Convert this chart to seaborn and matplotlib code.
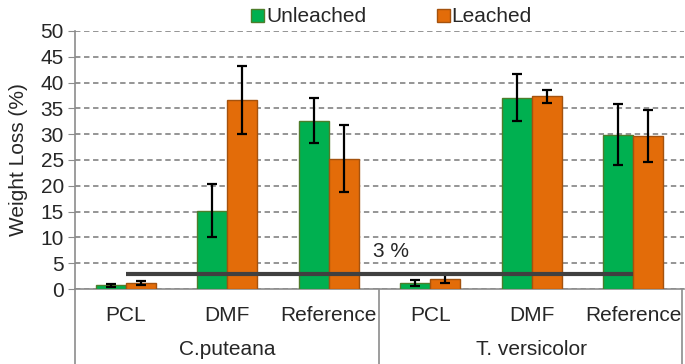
import pandas as pd
import seaborn as sns
import matplotlib.pyplot as plt
import matplotlib.transforms as mtransforms

groups = ["C.puteana", "T. versicolor"]
treatments = ["PCL", "DMF", "Reference"]
unleached = [0.7, 15.2, 32.6, 1.2, 37.1, 29.9]
unleached_err = [0.3, 5.1, 4.4, 0.6, 4.6, 5.9]
leached = [1.2, 36.6, 25.2, 2.0, 37.3, 29.7]
leached_err = [0.4, 6.6, 6.5, 0.9, 1.3, 5.0]
threshold = 3

cats = [g + "|" + t for g in groups for t in treatments]
df = pd.DataFrame({
    "cat": cats * 2,
    "cond": ["Unleached"] * 6 + ["Leached"] * 6,
    "val": unleached + leached,
    "err": unleached_err + leached_err,
})

sns.set_style("white")
plt.rcParams["font.family"] = ["Liberation Sans", "DejaVu Sans"]
fs = 15

fig = plt.figure(figsize=(6.85, 3.64), dpi=100)
ax = fig.add_axes([0.1095, 0.206, 0.889, 0.709])

pal = {"Unleached": "#00B050", "Leached": "#E36C09"}
sns.barplot(data=df, x="cat", y="val", hue="cond", order=cats,
            hue_order=["Unleached", "Leached"], palette=pal, width=0.59,
            gap=0, errorbar=None, saturation=1, ax=ax, zorder=3)

edges = ["#4E7D2B", "#A4520E"]
for cont, errs, ec in zip(ax.containers, [unleached_err, leached_err], edges):
    xs = []
    ys = []
    for p in cont.patches:
        p.set_edgecolor(ec)
        p.set_linewidth(1.0)
        xs.append(p.get_x() + p.get_width() / 2)
        ys.append(p.get_height())
    ax.errorbar(xs, ys, yerr=errs, fmt="none", ecolor="black", elinewidth=1.6,
                capsize=3.5, capthick=1.6, zorder=4)

# 3 % threshold line
ax.plot([0, len(cats) - 1], [threshold, threshold], color="#404040", lw=3,
        zorder=5, solid_capstyle="butt")
ax.text(2.44, 7.2, "3 %", fontsize=fs, color="#262626", va="center", ha="left")

ax.set_ylim(0, 50)
ax.set_xlim(-0.5, len(cats) - 0.5)
ax.set_yticks(range(0, 51, 5))
ax.yaxis.grid(True, linestyle=(0, (3, 2)), color="#8C8C8C", lw=1.3, zorder=0)
ax.set_axisbelow(True)
ax.tick_params(axis="y", left=True, length=5, color="#8C8C8C", labelsize=fs,
               pad=3)
ax.tick_params(axis="x", bottom=False, labelsize=fs, pad=9)
ax.set_xticks(range(len(cats)))
ax.set_xticklabels(treatments * 2)
ax.set_xlabel("")
ax.set_ylabel("Weight Loss (%)", fontsize=fs, labelpad=9)

for s in ["top", "right"]:
    ax.spines[s].set_visible(False)
for s in ["left", "bottom"]:
    ax.spines[s].set_color("#8C8C8C")
    ax.spines[s].set_linewidth(1.2)

# group separators and labels below the axis
trans = mtransforms.blended_transform_factory(ax.transData, ax.transAxes)
for xsep in [-0.5, 2.5, 5.48]:
    ax.plot([xsep, xsep], [0, -0.3], color="#8C8C8C", lw=1.2, transform=trans,
            clip_on=False)
for i, g in enumerate(groups):
    ax.text(3 * i + 1, -0.236, g, transform=trans, ha="center", va="center",
            fontsize=fs)

leg = ax.legend(loc="lower center", bbox_to_anchor=(0.52, 0.985), ncol=2,
                frameon=False, fontsize=fs, handlelength=0.6, handleheight=0.6,
                handletextpad=0.1, columnspacing=3.4, borderaxespad=0.0)
for h, ec in zip(leg.legend_handles, edges):
    h.set_edgecolor(ec)

fig.savefig("out.png", dpi=100)
